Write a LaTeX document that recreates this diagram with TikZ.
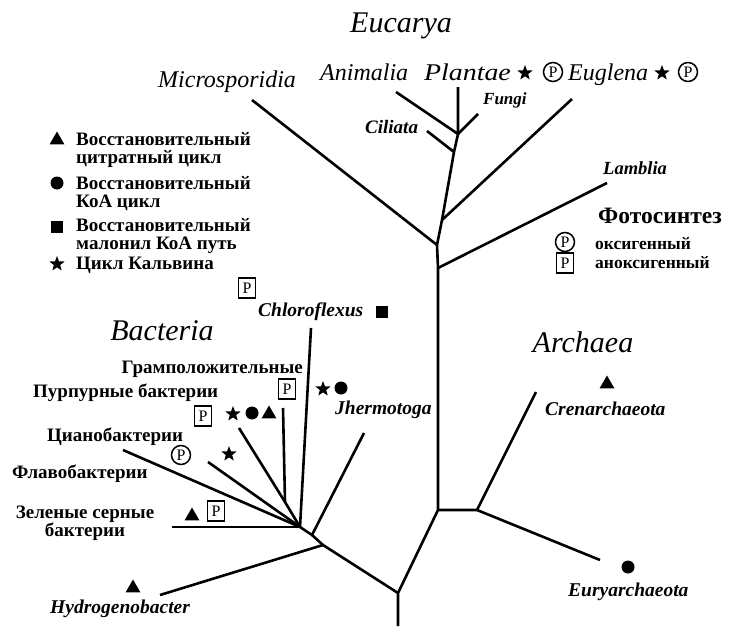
\documentclass[tikz,border=0pt]{standalone}
\usepackage{fontspec}
\setmainfont{Liberation Serif}
\usetikzlibrary{shapes.geometric}
\newcommand\myfs[1]{\fontsize{#1}{#1}\selectfont}
\tikzset{
  br/.style={line width=2.6pt, line join=round},
  bigl/.style={font=\myfs{30}\itshape, anchor=base, inner sep=0},
  midl/.style={font=\myfs{24}\itshape, anchor=base west, inner sep=0},
  smll/.style={font=\myfs{19.5}\bfseries\itshape, anchor=base west, inner sep=0},
  rus/.style={font=\myfs{19}\bfseries, anchor=base west, inner sep=0},
  rusr/.style={font=\myfs{17.5}\bfseries, anchor=base west, inner sep=0},
  tri/.style={regular polygon, regular polygon sides=3, fill=black, inner sep=0, minimum size=17pt},
  dot/.style={circle, fill=black, inner sep=0, minimum size=13pt},
  sqr/.style={rectangle, fill=black, inner sep=0, minimum size=12pt},
  str/.style={star, star points=5, star point ratio=2.4, fill=black, inner sep=0, minimum size=16pt},
  cP/.style={circle, draw, line width=1.5pt, inner sep=0, minimum size=19pt, font=\myfs{16}},
  bP/.style={rectangle, draw, line width=1.8pt, inner sep=0, minimum width=17pt, minimum height=20pt, font=\myfs{16}},
}
\begin{document}
\begin{tikzpicture}[x=1pt,y=-1pt]
\useasboundingbox (0,0) rectangle (733,626);
\fill[white] (0,0) rectangle (733,626);
% tree coordinates
\coordinate (root) at (398,626);
\coordinate (B) at (398,593);
\coordinate (A1) at (438,510);
\coordinate (A2) at (477,510);
\coordinate (cren) at (536,392);
\coordinate (eury) at (600,560);
\coordinate (E1) at (438,268);
\coordinate (lamb) at (607,183);
\coordinate (E2) at (437,245);
\coordinate (micro) at (252,100);
\coordinate (E3) at (442,220);
\coordinate (eug) at (572,99);
\coordinate (E4) at (454,152);
\coordinate (cil) at (427,131);
\coordinate (E5) at (458,134);
\coordinate (anim) at (396,92);
\coordinate (plant) at (458,87);
\coordinate (fung) at (478,114);
\coordinate (Hy) at (323,545);
\coordinate (T) at (312,535);
\coordinate (H) at (300,527);
\coordinate (hyd) at (160,595);
\coordinate (therm) at (364,433);
\coordinate (chl) at (311,328);
\coordinate (G) at (285,502);
\coordinate (gram) at (283,408);
\coordinate (purp) at (239,428);
\coordinate (cyan) at (208,462);
\coordinate (flav) at (123,450);
\coordinate (green) at (172,527);
% branches
\draw[br] (root) -- (B) -- (A1) -- (E1) -- (E2) -- (E3) -- (E4) -- (E5) -- (plant);
\draw[br] (A1) -- (A2) -- (cren);
\draw[br] (A2) -- (eury);
\draw[br] (E1) -- (lamb);
\draw[br] (E2) -- (micro);
\draw[br] (E3) -- (eug);
\draw[br] (E4) -- (cil);
\draw[br] (E5) -- (anim);
\draw[br] (E5) -- (fung);
\draw[br] (B) -- (Hy) -- (T) -- (H);
\draw[br] (Hy) -- (hyd);
\draw[br] (T) -- (therm);
\draw[br] (H) -- (chl);
\draw[br] (H) -- (G) -- (gram);
\draw[br] (G) -- (purp);
\draw[br] (H) -- (cyan);
\draw[br] (H) -- (flav);
\draw[br] (H) -- (green);
% domain titles
\node[bigl] (tEuc) at (401,33) {Eucarya};
\node[bigl] (tBac) at (162,340) {Bacteria};
\node[bigl] (tArc) at (583,352) {Archaea};
% eukaryote labels
\node[midl] (lMic) at (158,88) {Microsporidia};
\node[midl] (lAni) at (320,81) {Animalia};
\node[midl] (lPla) at (424,81) {\scalebox{1.16}[1]{Plantae}};
\node[str] (sPla) at (525,73) {};
\node[cP] (pPla) at (553,72) {P};
\node[midl] (lEug) at (568,81) {Euglena};
\node[str] (sEug) at (662,73) {};
\node[cP] (pEug) at (688,72) {P};
\node[smll, font=\myfs{17}\bfseries\itshape] (lFun) at (483,104) {Fungi};
\node[smll, font=\myfs{19}\bfseries\itshape] (lCil) at (365,133) {Ciliata};
\node[smll, font=\myfs{18.5}\bfseries\itshape] (lLam) at (603,174) {Lamblia};
% photosynthesis legend
\node[font=\myfs{23.5}\bfseries, anchor=base west, inner sep=0] (lFot) at (598,223) {Фотосинтез};
\node[cP] (pOx) at (565,242) {P};
\node[rusr] (lOx) at (595,249) {оксигенный};
\node[bP] (pAn) at (565,263) {P};
\node[rusr] (lAn) at (595,268) {аноксигенный};
% left legend
\node[tri] (kTri) at (57,140) {};
\node[rus] (k1a) at (76,145) {Восстановительный};
\node[rus] (k1b) at (76,163) {цитратный цикл};
\node[dot] (kDot) at (57,183) {};
\node[rus] (k2a) at (76,189) {Восстановительный};
\node[rus] (k2b) at (76,207) {КоА цикл};
\node[sqr] (kSq) at (57,227) {};
\node[rus] (k3a) at (76,231) {Восстановительный};
\node[rus] (k3b) at (76,249) {малонил КоА путь};
\node[str] (kStr) at (57,264) {};
\node[rus] (k4) at (76,269) {Цикл Кальвина};
% bacteria labels
\node[bP] (pChl) at (247,288) {P};
\node[smll] (lChl) at (258,316) {Chloroflexus};
\node[sqr] (sChl) at (382,312) {};
\node[rus, anchor=base east] (lGra) at (303,373) {Грамположительные};
\node[bP] (pGra) at (287,389) {P};
\node[str] (sThe) at (323,389) {};
\node[dot] (dThe) at (341,388) {};
\node[smll] (lThe) at (335,414) {Jhermotoga};
\node[rus] (lPur) at (33,397) {Пурпурные бактерии};
\node[bP] (pPur) at (203,416) {P};
\node[str] (sPur) at (233,414) {};
\node[dot] (dPur) at (252,413) {};
\node[tri] (tPur) at (269,414) {};
\node[rus] (lCya) at (47,441) {Цианобактерии};
\node[cP] (pCya) at (181,455) {P};
\node[str] (sCya) at (229,454) {};
\node[rus] (lFla) at (12,478) {Флавобактерии};
\node[rus, anchor=base] (lZe1) at (85,518) {Зеленые серные};
\node[rus, anchor=base] (lZe2) at (85,536) {бактерии};
\node[tri] (tZe) at (192,516) {};
\node[bP] (pZe) at (216,511) {P};
\node[tri] (tHyd) at (133,588) {};
\node[smll] (lHyd) at (50,613) {Hydrogenobacter};
% archaea labels
\node[tri] (tCre) at (607,384) {};
\node[smll] (lCre) at (545,415) {Crenarchaeota};
\node[dot] (dEur) at (628,567) {};
\node[smll] (lEur) at (568,596) {Euryarchaeota};
\end{tikzpicture}
\end{document}
